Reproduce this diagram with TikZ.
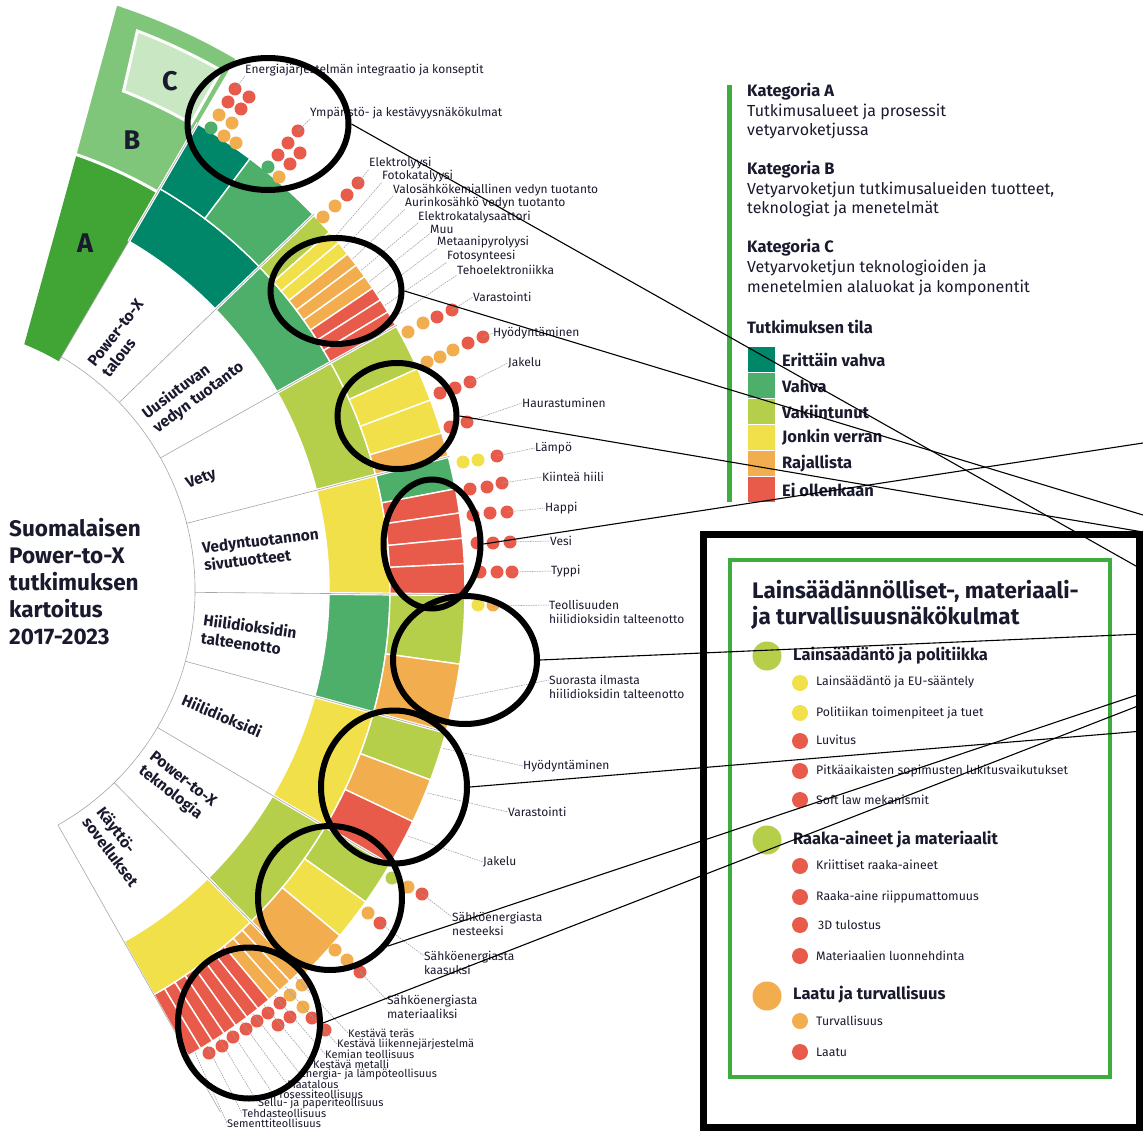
\documentclass[tikz,border=0pt]{standalone}
\usepackage{fontspec}
\setmainfont{Fira Sans}
\usetikzlibrary{shapes.geometric}

\definecolor{evahva}{HTML}{00876A}
\definecolor{vahva}{HTML}{4DAF6A}
\definecolor{vakiintunut}{HTML}{B5CF4A}
\definecolor{jonkin}{HTML}{F2E04A}
\definecolor{rajallista}{HTML}{F2AE4E}
\definecolor{eiollenk}{HTML}{E85B4A}
\definecolor{katA}{HTML}{41A535}
\definecolor{katB}{HTML}{80C67A}
\definecolor{katC}{HTML}{C8E7C2}
\definecolor{kehys}{HTML}{3DAE3D}
\definecolor{teksti}{HTML}{1A1A2E}

\tikzset{
  every node/.style={text=teksti},
  alue/.style={anchor=west, align=left, inner sep=0pt, font=\bfseries\fontsize{15.5}{18}\selectfont},
  osa/.style={anchor=west, inner sep=0pt, font=\fontsize{12}{14.5}\selectfont},
  osa2/.style={osa, align=left},
  kosa/.style={osa, font=\fontsize{11}{11}\selectfont},
  leader/.style={gray!75, line width=0.55pt, dash pattern=on 1.6pt off 0.9pt},
  sep/.style={gray!70, line width=0.6pt},
  rako/.style={white, line width=3pt},
  zoomring/.style={ellipse, draw=black, line width=6pt, inner sep=0pt},
  callout/.style={black, line width=1.1pt},
  legotsikko/.style={anchor=west, inner sep=0pt, font=\bfseries\fontsize{16.5}{16.5}\selectfont},
  legteksti/.style={anchor=west, inner sep=0pt, font=\fontsize{16}{16}\selectfont},
  lakiotsikko/.style={anchor=west, inner sep=0pt, font=\bfseries\fontsize{16.5}{16.5}\selectfont},
  laki/.style={anchor=west, inner sep=0pt, font=\fontsize{12.3}{12.3}\selectfont},
}

% fill colour, start angle, end angle, inner radius, outer radius
\newcommand{\sektori}[5]{%
  \path[fill=#1, draw=white, line width=1.4pt] (#2:#4) arc[start angle=#2, end angle=#3, radius=#4]
    -- (#3:#5) arc[start angle=#3, end angle=#2, radius=#5] -- cycle;}
% fill colour, x, y
\newcommand{\piste}[3]{\fill[#1] (#2,#3) circle[radius=6.5];}
\newcommand{\isopiste}[3]{\fill[#1] (#2,#3) circle[radius=14.5];}
\newcommand{\pikku}[3]{\fill[#1] (#2,#3) circle[radius=8];}

\begin{document}
\begin{tikzpicture}[x=1pt, y=-1pt]
\useasboundingbox (0,0) rectangle (1143,1131);
\fill[white] (0,0) rectangle (1143,1131);

\node[anchor=north west, align=left, inner sep=0pt, font=\bfseries\fontsize{22.5}{27}\selectfont] (otsikko) at (9,518)
  {Suomalaisen\\Power-to-X\\tutkimuksen\\kartoitus\\2017-2023};

\begin{scope}[shift={(-75,590)}, y=1pt]
  % selitesektori
  \fill[katB] (70.8:460) -- (71.8:615) arc[start angle=71.8, end angle=59.7, radius=615]
    -- (59.7:460) arc[start angle=59.7, end angle=70.8, radius=460] -- cycle;
  \fill[katA] (68:265) -- (70.8:460) arc[start angle=70.8, end angle=59.7, radius=460]
    -- (59.7:265) arc[start angle=59.7, end angle=68, radius=265] -- cycle;
  \draw[rako] (59.7:461) arc[start angle=59.7, end angle=71, radius=461];
  \path[fill=katC, draw=white, line width=3pt] (68.3:537) -- (69.2:598) arc[start angle=69.2, end angle=60.3, radius=598]
    -- (60.3:537) arc[start angle=60.3, end angle=68.3, radius=537] -- cycle;

  \draw[sep] (-60.5:270) arc[start angle=-60.5, end angle=59.7, radius=270];

  % B-kehä
  \sektori{evahva}{44}{59.7}{404}{465}
  \sektori{vahva}{29.3}{44}{404}{465}
  \sektori{vakiintunut}{14.3}{29.3}{404}{465}
  \sektori{jonkin}{-0.5}{14.3}{404}{465}
  \sektori{vahva}{-15.3}{-0.5}{404}{465}
  \sektori{jonkin}{-30.6}{-15.3}{404}{465}
  \sektori{vakiintunut}{-45.5}{-30.6}{404}{465}
  \sektori{jonkin}{-60.5}{-45.5}{404}{465}

  % C-kehä
  \sektori{evahva}{53}{59.7}{465}{540}
  \sektori{vahva}{44}{53}{465}{540}
  \sektori{vakiintunut}{41.5}{44}{465}{540}
  \sektori{jonkin}{40}{41.5}{465}{540}
  \sektori{jonkin}{38.5}{40}{465}{540}
  \sektori{rajallista}{37}{38.5}{465}{540}
  \sektori{rajallista}{35.5}{37}{465}{540}
  \sektori{rajallista}{34}{35.5}{465}{540}
  \sektori{eiollenk}{32.5}{34}{465}{540}
  \sektori{eiollenk}{31}{32.5}{465}{540}
  \sektori{eiollenk}{29.3}{31}{465}{540}
  \sektori{vakiintunut}{24.2}{29.3}{465}{540}
  \sektori{jonkin}{20.6}{24.2}{465}{540}
  \sektori{jonkin}{16.9}{20.6}{465}{540}
  \sektori{rajallista}{14.3}{16.9}{465}{540}
  \sektori{vahva}{10.8}{14.3}{465}{540}
  \sektori{eiollenk}{8.2}{10.8}{465}{540}
  \sektori{eiollenk}{5.5}{8.2}{465}{540}
  \sektori{eiollenk}{2.8}{5.5}{465}{540}
  \sektori{eiollenk}{-0.5}{2.8}{465}{540}
  \sektori{vakiintunut}{-7.9}{-0.5}{465}{540}
  \sektori{rajallista}{-15.3}{-7.9}{465}{540}
  \sektori{vakiintunut}{-20.6}{-15.3}{465}{540}
  \sektori{rajallista}{-25.4}{-20.6}{465}{540}
  \sektori{eiollenk}{-30.6}{-25.4}{465}{540}
  \sektori{vakiintunut}{-35.3}{-30.6}{465}{540}
  \sektori{jonkin}{-39.8}{-35.3}{465}{540}
  \sektori{rajallista}{-45.5}{-39.8}{465}{540}
  \sektori{rajallista}{-47}{-45.5}{465}{535}
  \sektori{rajallista}{-48.5}{-47}{465}{535}
  \sektori{rajallista}{-50}{-48.5}{465}{535}
  \sektori{eiollenk}{-51.5}{-50}{465}{535}
  \sektori{eiollenk}{-53}{-51.5}{465}{535}
  \sektori{eiollenk}{-54.5}{-53}{465}{535}
  \sektori{eiollenk}{-56}{-54.5}{465}{535}
  \sektori{eiollenk}{-57.5}{-56}{465}{535}
  \sektori{eiollenk}{-59}{-57.5}{465}{535}
  \sektori{eiollenk}{-60.5}{-59}{465}{535}

  % sektorien rajat
  \draw[rako] (59.7:404) -- (59.7:541);
  \draw[rako] (44:404) -- (44:541);
  \draw[rako] (29.3:404) -- (29.3:541);
  \draw[rako] (14.3:404) -- (14.3:541);
  \draw[rako] (-0.5:404) -- (-0.5:541);
  \draw[rako] (-15.3:404) -- (-15.3:541);
  \draw[rako] (-30.6:404) -- (-30.6:541);
  \draw[rako] (-45.5:404) -- (-45.5:541);
  \draw[sep] (59.7:265) -- (59.7:541);
  \draw[sep] (44:270) -- (44:541);
  \draw[sep] (29.3:270) -- (29.3:541);
  \draw[sep] (14.3:270) -- (14.3:541);
  \draw[sep] (-0.5:270) -- (-0.5:541);
  \draw[sep] (-15.3:270) -- (-15.3:541);
  \draw[sep] (-30.6:270) -- (-30.6:541);
  \draw[sep] (-45.5:270) -- (-45.5:541);
  \draw[sep] (-60.5:270) -- (-60.5:600);

  % kategoria A
  \node[alue, rotate=51.85]  (talous)     at (51.85:280)  {Power-to-X\\talous};
  \node[alue, rotate=36.65]  (uusiutuva)  at (36.65:280)  {Uusiutuvan\\vedyn tuotanto};
  \node[alue, rotate=21.8]   (vety)       at (21.8:282)   {Vety};
  \node[alue, rotate=6.9]    (sivutuote)  at (6.9:280)    {Vedyntuotannon\\sivutuotteet};
  \node[alue, rotate=-7.9]   (talteen)    at (-7.9:280)   {Hiilidioksidin\\talteenotto};
  \node[alue, rotate=-22.95] (hiilidiox)  at (-22.95:280) {Hiilidioksidi};
  \node[alue, rotate=-38.05] (ptxtek)     at (-38.05:280) {Power-to-X\\teknologia};
  \node[alue, rotate=-53]    (kaytto)     at (-53:280)    {Käyttö-\\sovellukset};

  \coordinate (uu1) at (40.75:541);
  \coordinate (uu2) at (39.25:541);
  \coordinate (uu3) at (37.75:541);
  \coordinate (uu4) at (36.25:541);
  \coordinate (uu5) at (34.75:541);
  \coordinate (uu6) at (33.25:541);
  \coordinate (uu7) at (31.75:541);
  \coordinate (uu8) at (30.15:541);
  \coordinate (co2) at (-11.6:541);
  \coordinate (hd1) at (-17:542);
  \coordinate (hd2) at (-22:542);
  \coordinate (hd3) at (-27:542);
  \coordinate (ks1) at (-46.25:536);
  \coordinate (ks2) at (-47.75:536);
  \coordinate (ks3) at (-49.25:536);
  \coordinate (ks4) at (-50.75:536);
  \coordinate (ks5) at (-52.25:536);
  \coordinate (ks6) at (-53.75:536);
  \coordinate (ks7) at (-55.25:536);
  \coordinate (ks8) at (-56.75:536);
  \coordinate (ks9) at (-58.25:536);
  \coordinate (ks10) at (-59.75:536);
\end{scope}

\node[font=\bfseries\fontsize{27}{27}\selectfont] (kirjainA) at (85,243) {A};
\node[font=\bfseries\fontsize{27}{27}\selectfont] (kirjainB) at (132,140) {B};
\node[font=\bfseries\fontsize{27}{27}\selectfont] (kirjainC) at (170,81) {C};

% pisteet
\piste{eiollenk}{235}{89}   \piste{eiollenk}{249}{97}   \piste{eiollenk}{228}{102}
\piste{eiollenk}{241}{109}  \piste{rajallista}{219}{115} \piste{rajallista}{232}{123}
\piste{vahva}{211}{128}     \piste{rajallista}{224}{136} \piste{rajallista}{236}{143}
\piste{eiollenk}{298}{131}  \piste{eiollenk}{288}{143}  \piste{eiollenk}{300}{153}
\piste{eiollenk}{278}{155}  \piste{eiollenk}{290}{164}  \piste{vahva}{268}{167}
\piste{rajallista}{279}{177}
\piste{rajallista}{323}{217} \piste{rajallista}{335}{206} \piste{eiollenk}{347}{195} \piste{eiollenk}{358}{183}
\piste{rajallista}{408}{332} \piste{rajallista}{423}{323} \piste{eiollenk}{437}{317} \piste{eiollenk}{452}{310}
\piste{rajallista}{427}{362} \piste{rajallista}{440}{357} \piste{rajallista}{453}{350}
\piste{eiollenk}{468}{343}  \piste{eiollenk}{483}{337}
\piste{eiollenk}{440}{393}  \piste{eiollenk}{455}{388}  \piste{eiollenk}{470}{382}
\piste{eiollenk}{450}{427}  \piste{eiollenk}{467}{422}
\piste{jonkin}{463}{462}    \piste{jonkin}{478}{460}    \piste{eiollenk}{497}{456}
\piste{eiollenk}{470}{489}  \piste{eiollenk}{487}{487}  \piste{eiollenk}{502}{483}
\piste{eiollenk}{473}{515}  \piste{eiollenk}{490}{513}  \piste{eiollenk}{507}{512}
\piste{eiollenk}{477}{543}  \piste{eiollenk}{493}{543}  \piste{eiollenk}{510}{542}
\piste{eiollenk}{480}{572}  \piste{eiollenk}{497}{572}  \piste{eiollenk}{512}{572}
\piste{jonkin}{478}{605}    \piste{rajallista}{493}{605}
\piste{vakiintunut}{392}{878} \piste{rajallista}{408}{887} \piste{eiollenk}{422}{894}
\piste{rajallista}{368}{913} \piste{eiollenk}{380}{923}
\piste{rajallista}{335}{950} \piste{rajallista}{347}{960} \piste{eiollenk}{360}{972}
\piste{eiollenk}{209}{1053} \piste{eiollenk}{222}{1046} \piste{eiollenk}{233}{1037}
\piste{eiollenk}{246}{1029} \piste{eiollenk}{257}{1021} \piste{eiollenk}{268}{1013}
\piste{eiollenk}{280}{1003} \piste{rajallista}{290}{995} \piste{rajallista}{302}{985}
\piste{eiollenk}{278}{1025} \piste{eiollenk}{290}{1017} \piste{rajallista}{303}{1007}
\piste{eiollenk}{312}{1018} \piste{eiollenk}{325}{1030}

% C-tason nimet
\node[osa] (energia)   at (245,70)  {Energiajärjestelmän integraatio ja konseptit};
\node[osa] (ymparisto) at (310,113) {Ympäristö- ja kestävyysnäkökulmat};
\draw[leader] (235,89) -- (energia.south west);
\draw[leader] (298,131) -- (ymparisto.south west);

\node[osa] (elektrolyysi) at (369,163) {Elektrolyysi};
\node[osa] (fotokat)      at (382,176) {Fotokatalyysi};
\node[osa] (valosahko)    at (393,190) {Valosähkökemiallinen vedyn tuotanto};
\node[osa] (aurinko)      at (405,203) {Aurinkosähkö vedyn tuotanto};
\node[osa] (elkat)        at (418,217) {Elektrokatalysaattori};
\node[osa] (muu)          at (430,229) {Muu};
\node[osa] (metaani)      at (437,242) {Metaanipyrolyysi};
\node[osa] (fotosyn)      at (447,256) {Fotosynteesi};
\node[osa] (tehoel)       at (457,270) {Tehoelektroniikka};
\draw[leader] (358,183) -- (elektrolyysi.south west);
\draw[leader] (uu1) -- (fotokat.south west);
\draw[leader] (uu2) -- (valosahko.south west);
\draw[leader] (uu3) -- (aurinko.south west);
\draw[leader] (uu4) -- (elkat.south west);
\draw[leader] (uu5) -- (muu.south west);
\draw[leader] (uu6) -- (metaani.south west);
\draw[leader] (uu7) -- (fotosyn.south west);
\draw[leader] (uu8) -- (tehoel.south west);

\node[osa] (varastointi1)  at (473,297) {Varastointi};
\node[osa] (hyodynt1)      at (493,333) {Hyödyntäminen};
\node[osa] (jakelu1)       at (508,363) {Jakelu};
\node[osa] (haurast)       at (522,403) {Haurastuminen};
\node[osa] (lampo)         at (535,448) {Lämpö};
\node[osa] (kiintea)       at (542,477) {Kiinteä hiili};
\node[osa] (happi)         at (545,508) {Happi};
\node[osa] (vesi)          at (550,541) {Vesi};
\node[osa] (typpi)         at (551,571) {Typpi};
\draw[leader] (452,310) -- (varastointi1.west);
\draw[leader] (483,337) -- (hyodynt1.west);
\draw[leader] (470,382) -- (jakelu1.west);
\draw[leader] (467,422) -- (haurast.west);
\draw[leader] (497,456) -- (lampo.west);
\draw[leader] (502,483) -- (kiintea.west);
\draw[leader] (507,512) -- (happi.west);
\draw[leader] (510,542) -- (vesi.west);
\draw[leader] (512,572) -- (typpi.west);

\node[osa2] (teoll)   at (549,612) {Teollisuuden\\hiilidioksidin talteenotto};
\node[osa2] (suoraan) at (549,687) {Suorasta ilmasta\\hiilidioksidin talteenotto};
\draw[leader] (493,606) -- ([yshift=7pt]teoll.west);
\draw[leader] (co2) -- ([yshift=7pt]suoraan.west);

\node[osa] (hyodynt2)     at (523,766) {Hyödyntäminen};
\node[osa] (varastointi2) at (508,812) {Varastointi};
\node[osa] (jakelu2)      at (483,862) {Jakelu};
\draw[leader] (hd1) -- (hyodynt2.west);
\draw[leader] (hd2) -- (varastointi2.west);
\draw[leader] (hd3) -- (jakelu2.west);

\node[osa2] (nesteeksi)     at (452,924)  {Sähköenergiasta\\nesteeksi};
\node[osa2] (kaasuksi)      at (424,963)  {Sähköenergiasta\\kaasuksi};
\node[osa2] (materiaaliksi) at (387,1007) {Sähköenergiasta\\materiaaliksi};
\draw[leader] (422,894) -- ([yshift=7pt]nesteeksi.west);
\draw[leader] (380,923) -- ([yshift=7pt]kaasuksi.west);
\draw[leader] (360,972) -- ([yshift=7pt]materiaaliksi.west);

\node[kosa] (kteras)    at (348,1033) {Kestävä teräs};
\node[kosa] (kliikenne) at (337,1044) {Kestävä liikennejärjestelmä};
\node[kosa] (kkemia)    at (325,1054) {Kemian teollisuus};
\node[kosa] (kmetalli)  at (313,1064) {Kestävä metalli};
\node[kosa] (kenergia)  at (300,1074) {Energia- ja lämpöteollisuus};
\node[kosa] (kmaatal)   at (287,1084) {Maatalous};
\node[kosa] (kprosessi) at (273,1094) {Prosessiteollisuus};
\node[kosa] (ksellu)    at (258,1103) {Sellu- ja paperiteollisuus};
\node[kosa] (ktehdas)   at (242,1113) {Tehdasteollisuus};
\node[kosa] (ksementti) at (227,1123) {Sementtiteollisuus};
\draw[leader] (ks1) -- (kteras.west);
\draw[leader] (ks2) -- (kliikenne.west);
\draw[leader] (ks3) -- (kkemia.west);
\draw[leader] (ks4) -- (kmetalli.west);
\draw[leader] (ks5) -- (kenergia.west);
\draw[leader] (ks6) -- (kmaatal.west);
\draw[leader] (ks7) -- (kprosessi.west);
\draw[leader] (ks8) -- (ksellu.west);
\draw[leader] (ks9) -- (ktehdas.west);
\draw[leader] (ks10) -- (ksementti.west);

% suurennusrenkaat
\node[zoomring, minimum width=161pt, minimum height=132pt] (zr1) at (268,124) {};
\node[zoomring, minimum width=131pt, minimum height=106pt] (zr2) at (336,291) {};
\node[zoomring, minimum width=119pt, minimum height=106pt] (zr3) at (397,416) {};
\node[zoomring, minimum width=97pt, minimum height=129pt] (zr4) at (432,544) {};
\node[zoomring, minimum width=144pt, minimum height=128pt] (zr5) at (465,660) {};
\node[zoomring, minimum width=146pt, minimum height=153pt] (zr6) at (394,787) {};
\node[zoomring, minimum width=144pt, minimum height=144pt] (zr7) at (330,898) {};
\node[zoomring, minimum width=142pt, minimum height=151pt] (zr8) at (249,1023) {};

% selite
\fill[kehys] (727,85) rectangle (732,502);
\node[legotsikko] (kategoriaA) at (747,92)  {Kategoria A};
\node[legteksti]  (kuvausA1)   at (747,112) {Tutkimusalueet ja prosessit};
\node[legteksti]  (kuvausA2)   at (747,131) {vetyarvoketjussa};
\node[legotsikko] (kategoriaB) at (747,170) {Kategoria B};
\node[legteksti]  (kuvausB1)   at (747,190) {Vetyarvoketjun tutkimusalueiden tuotteet,};
\node[legteksti]  (kuvausB2)   at (747,209) {teknologiat ja menetelmät};
\node[legotsikko] (kategoriaC) at (747,248) {Kategoria C};
\node[legteksti]  (kuvausC1)   at (747,268) {Vetyarvoketjun teknologioiden ja};
\node[legteksti]  (kuvausC2)   at (747,288) {menetelmien alaluokat ja komponentit};
\node[legotsikko] (tila)       at (747,327) {Tutkimuksen tila};
\fill[evahva]      (748,347) rectangle (775,372);
\fill[vahva]       (748,373) rectangle (775,398);
\fill[vakiintunut] (748,399) rectangle (775,424);
\fill[jonkin]      (748,425) rectangle (775,450);
\fill[rajallista]  (748,451) rectangle (775,476);
\fill[eiollenk]    (748,477) rectangle (775,502);
\node[legotsikko] (erittain)   at (782,360) {Erittäin vahva};
\node[legotsikko] (vahvat)     at (782,386) {Vahva};
\node[legotsikko] (vakiint)    at (782,412) {Vakiintunut};
\node[legotsikko] (jonkinv)    at (782,437) {Jonkin verran};
\node[legotsikko] (rajall)     at (782,464) {Rajallista};
\node[legotsikko] (eiollen)    at (782,490) {Ei ollenkaan};

% lainsäädäntölaatikko
\draw[line width=7pt] (703,534) rectangle (1139,1127);
\draw[kehys, line width=4pt] (730,560) rectangle (1110,1077);
\node[anchor=west, inner sep=0pt, font=\bfseries\fontsize{22.5}{22.5}\selectfont] (laki1) at (752,591) {Lainsäädännölliset-, materiaali-};
\node[anchor=west, inner sep=0pt, font=\bfseries\fontsize{22.5}{22.5}\selectfont] (laki2) at (752,618) {ja turvallisuusnäkökulmat};
\isopiste{vakiintunut}{767}{656}
\isopiste{vakiintunut}{767}{840}
\isopiste{rajallista}{767}{996}
\node[lakiotsikko] (politiikka)  at (793,656) {Lainsäädäntö ja politiikka};
\node[lakiotsikko] (materiaalit) at (793,840) {Raaka-aineet ja materiaalit};
\node[lakiotsikko] (laatu)       at (793,995) {Laatu ja turvallisuus};
\pikku{jonkin}{800}{683}    \pikku{jonkin}{800}{713}    \pikku{eiollenk}{800}{741}
\pikku{eiollenk}{800}{771}  \pikku{eiollenk}{800}{800}  \pikku{eiollenk}{800}{866}
\pikku{eiollenk}{800}{897}  \pikku{eiollenk}{800}{925}  \pikku{eiollenk}{800}{956}
\pikku{rajallista}{800}{1021} \pikku{eiollenk}{800}{1052}
\node[laki] (eusaantely)   at (816,682)  {Lainsäädäntö ja EU-sääntely};
\node[laki] (toimenpiteet) at (816,713)  {Politiikan toimenpiteet ja tuet};
\node[laki] (luvitus)      at (816,740)  {Luvitus};
\node[laki] (lukitus)      at (816,771)  {Pitkäaikaisten sopimusten lukitusvaikutukset};
\node[laki] (softlaw)      at (816,800)  {Soft law mekanismit};
\node[laki] (kriittiset)   at (816,865)  {Kriittiset raaka-aineet};
\node[laki] (riippumatt)   at (816,897)  {Raaka-aine riippumattomuus};
\node[laki] (tulostus)     at (818,925)  {3D tulostus};
\node[laki] (luonnehd)     at (816,956)  {Materiaalien luonnehdinta};
\node[laki] (turvall)      at (816,1021) {Turvallisuus};
\node[laki] (laatu2)       at (816,1052) {Laatu};

% viivat oikeaan reunaan
\coordinate (e1) at (1143,570);
\coordinate (e2) at (1143,515);
\coordinate (e3) at (1143,532);
\coordinate (e4) at (1143,443);
\coordinate (e5) at (1143,634);
\coordinate (e6) at (1143,731);
\coordinate (e7) at (1143,693);
\coordinate (e8) at (1143,704);
\draw[callout] (zr1.east) -- (e1);
\draw[callout] (zr2.east) -- (e2);
\draw[callout] (zr3.east) -- (e3);
\draw[callout] (zr4.east) -- (e4);
\draw[callout] (zr5.east) -- (e5);
\draw[callout] (zr6.east) -- (e6);
\draw[callout] (zr7.-40) -- (e7);
\draw[callout] (zr8.east) -- (e8);
\end{tikzpicture}
\end{document}
